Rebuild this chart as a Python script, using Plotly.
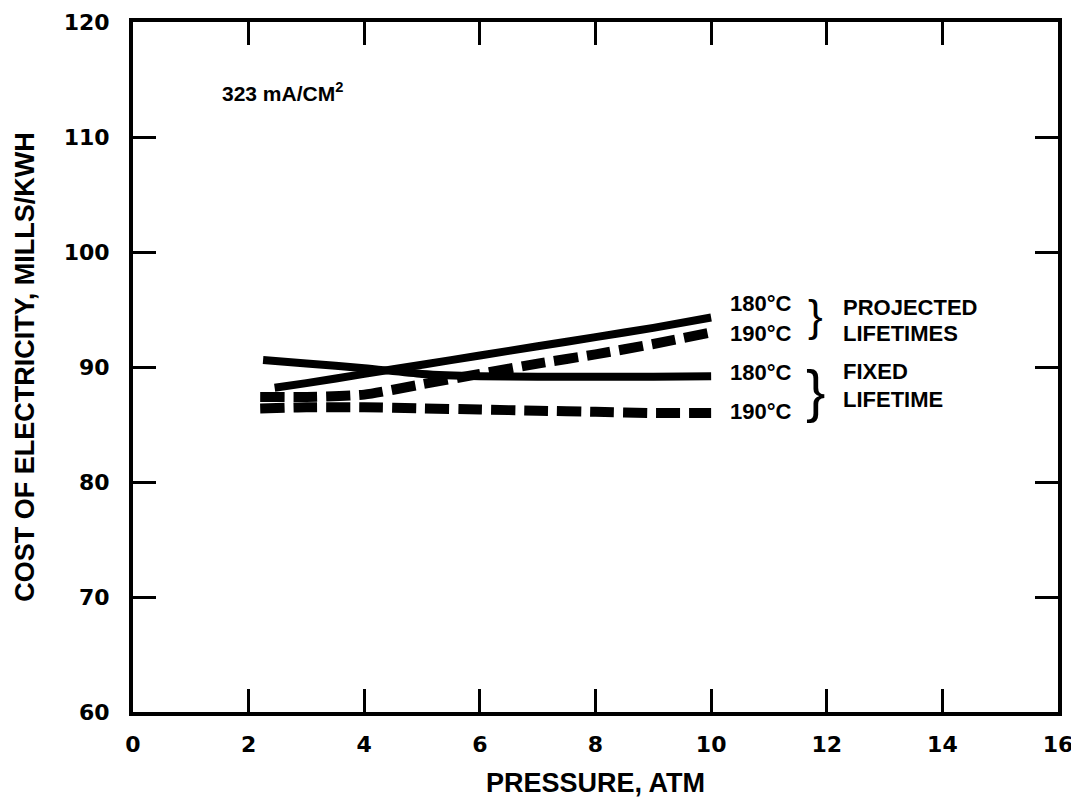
import plotly.graph_objects as go

# Data
proj180_x = [2.45, 3.0, 4.0, 5.0, 6.0, 7.0, 8.0, 9.0, 10.0]
proj180_y = [88.2, 88.6, 89.4, 90.2, 91.0, 91.8, 92.6, 93.4, 94.3]

proj190_x = [2.2, 3.0, 4.0, 5.0, 6.0, 7.0, 8.0, 9.0, 10.0]
proj190_y = [87.4, 87.4, 87.6, 88.5, 89.4, 90.3, 91.1, 92.0, 93.0]

fixed180_x = [2.25, 3.0, 4.0, 5.0, 6.0, 7.0, 8.0, 9.0, 10.0]
fixed180_y = [90.6, 90.3, 89.9, 89.4, 89.2, 89.15, 89.15, 89.15, 89.2]

fixed190_x = [2.2, 3.0, 4.0, 5.0, 6.0, 7.0, 8.0, 9.0, 10.0]
fixed190_y = [86.4, 86.5, 86.5, 86.4, 86.3, 86.2, 86.1, 86.0, 86.0]

x_ticks = [0, 2, 4, 6, 8, 10, 12, 14, 16]
y_ticks = [60, 70, 80, 90, 100, 110, 120]

temp_labels = ["180\u00b0C", "190\u00b0C", "180\u00b0C", "190\u00b0C"]
group_labels = ["PROJECTED", "LIFETIMES", "FIXED", "LIFETIME"]

BLACK = "#000000"
FONT = "Liberation Sans"

fig = go.Figure()
series = [
    (proj180_x, proj180_y, "solid"),
    (proj190_x, proj190_y, "24px,9px"),
    (fixed180_x, fixed180_y, "solid"),
    (fixed190_x, fixed190_y, "24px,9px"),
]
for xs, ys, dash in series:
    fig.add_trace(go.Scatter(
        x=xs, y=ys, mode="lines",
        line=dict(color=BLACK, width=8 if dash == "solid" else 10, dash=dash, shape="spline", smoothing=0.6),
        showlegend=False, hoverinfo="skip",
    ))

axis_common = dict(
    showgrid=False, zeroline=False, showline=True, linecolor=BLACK, linewidth=4,
    mirror="ticks", ticks="inside", ticklen=23, tickwidth=3, tickcolor=BLACK,
    tickfont=dict(family="DejaVu Sans", size=22, color=BLACK, weight="bold"),
    automargin=False,
)

fig.update_xaxes(
    range=[0, 16], tickvals=x_ticks, ticktext=[str(v) for v in x_ticks],
    title=dict(text="PRESSURE, ATM", font=dict(family=FONT, size=27, color=BLACK, weight="bold"), standoff=18),
    ticklabelstandoff=10,
    **axis_common,
)
fig.update_yaxes(
    range=[60, 120], tickvals=y_ticks, ticktext=[str(v) for v in y_ticks],
    title=dict(text="COST OF ELECTRICITY, MILLS/KWH", font=dict(family=FONT, size=27, color=BLACK, weight="bold"), standoff=22),
    ticklabelstandoff=15,
    **axis_common,
)

# Temperature labels next to line ends
temp_y = [95.5, 92.9, 89.5, 86.1]
for txt, yv in zip(temp_labels, temp_y):
    fig.add_annotation(x=10.3, y=yv, xref="x", yref="y", text=txt, showarrow=False,
                       xanchor="left", yanchor="middle",
                       font=dict(family=FONT, size=22, color=BLACK, weight="bold"))

# Braces
fig.add_annotation(x=11.8, y=94.5, xref="x", yref="y", text="}", showarrow=False,
                   xanchor="center", yanchor="middle",
                   font=dict(family=FONT, size=44, color=BLACK))
fig.add_annotation(x=11.8, y=88.0, xref="x", yref="y", text="}", showarrow=False,
                   xanchor="center", yanchor="middle",
                   font=dict(family=FONT, size=58, color=BLACK))

group_y = [95.2, 92.9, 89.6, 87.2]
for txt, yv in zip(group_labels, group_y):
    fig.add_annotation(x=12.25, y=yv, xref="x", yref="y", text=txt, showarrow=False,
                       xanchor="left", yanchor="middle",
                       font=dict(family=FONT, size=22, color=BLACK, weight="bold"))

fig.add_annotation(x=1.5, y=113.9, xref="x", yref="y", text="323 mA/CM<sup>2</sup>", showarrow=False,
                   xanchor="left", yanchor="middle",
                   font=dict(family=FONT, size=21, color=BLACK, weight="bold"))

# Page has an 8px body margin, so the figure is sized to fit the window
fig.update_layout(
    width=1071, height=792,
    margin=dict(l=125, r=21, t=14, b=88),
    plot_bgcolor="white", paper_bgcolor="white",
)

fig.write_html("out.html")
